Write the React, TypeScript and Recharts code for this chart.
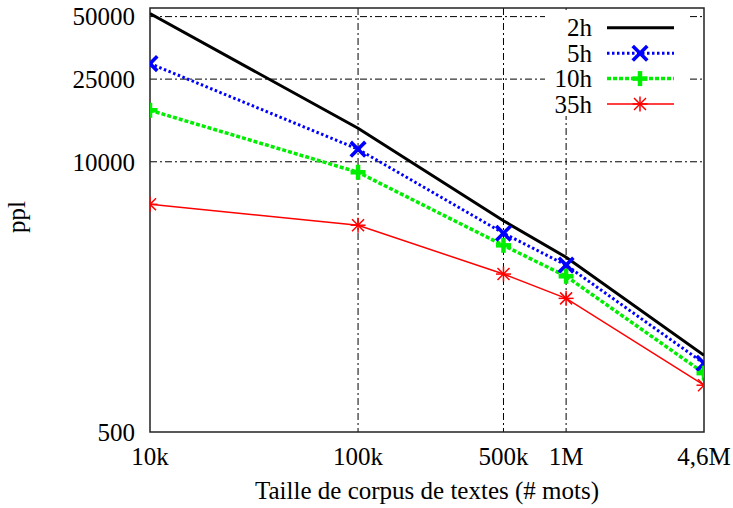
import React from "react";
import {
  LineChart, Line, XAxis, YAxis, CartesianGrid, Legend, ReferenceArea,
} from "recharts";

// corpus size (# words) and perplexity per training duration
const SIZES = [10000, 100000, 500000, 1000000, 4600000];
const SIZE_LABELS = ["10k", "100k", "500k", "1M", "4,6M"];
const PPL_2H = [51700, 14500, 5200, 3470, 1170];
const PPL_5H = [29700, 11500, 4530, 3180, 1070];
const PPL_10H = [17700, 8900, 3960, 2810, 960];
const PPL_35H = [6240, 4950, 2880, 2200, 840];
const Y_TICKS = [500, 10000, 25000, 50000];

const DATA = SIZES.map((s, i) => ({
  size: s,
  h2: PPL_2H[i],
  h5: PPL_5H[i],
  h10: PPL_10H[i],
  h35: PPL_35H[i],
}));

const FONT = "'Liberation Serif', 'DejaVu Serif', serif";

type Mark = "none" | "x" | "plus" | "star";

const SERIES: { key: string; name: string; color: string; width: number; dash?: string; mark: Mark }[] = [
  { key: "h2", name: "2h", color: "#000000", width: 3, mark: "none" },
  { key: "h5", name: "5h", color: "#0000ff", width: 3, dash: "2.5 2.5", mark: "x" },
  { key: "h10", name: "10h", color: "#00ee00", width: 3.5, dash: "4 2", mark: "plus" },
  { key: "h35", name: "35h", color: "#ff0000", width: 1.5, mark: "star" },
];

function Marker({ cx, cy, mark, color }: { cx: number; cy: number; mark: Mark; color: string }) {
  if (mark === "x") {
    return (
      <g stroke={color} strokeWidth={3.6} strokeLinecap="square">
        <line x1={cx - 6} y1={cy - 6} x2={cx + 6} y2={cy + 6} />
        <line x1={cx - 6} y1={cy + 6} x2={cx + 6} y2={cy - 6} />
      </g>
    );
  }
  if (mark === "plus") {
    return (
      <g stroke={color} strokeWidth={4.5}>
        <line x1={cx - 7.5} y1={cy} x2={cx + 7.5} y2={cy} />
        <line x1={cx} y1={cy - 7.5} x2={cx} y2={cy + 7.5} />
      </g>
    );
  }
  if (mark === "star") {
    return (
      <g stroke={color} strokeWidth={1.5}>
        <line x1={cx - 7.5} y1={cy} x2={cx + 7.5} y2={cy} />
        <line x1={cx} y1={cy - 7.5} x2={cx} y2={cy + 7.5} />
        <line x1={cx - 6} y1={cy - 6} x2={cx + 6} y2={cy + 6} />
        <line x1={cx - 6} y1={cy + 6} x2={cx + 6} y2={cy - 6} />
      </g>
    );
  }
  return null;
}

// legend sits just under the top frame line, on a white box that hides the grid
const LegendBox = () => (
  <svg width={144} height={106} style={{ display: "block", background: "#fff" }}>
    {SERIES.map((s, i) => {
      const y = 17.8 + i * 25.4;
      return (
        <g key={s.key}>
          <text x={47} y={y + 8.5} textAnchor="end" fontSize={25} fontFamily={FONT} fill="#000">
            {s.name}
          </text>
          <line x1={62} x2={129} y1={y} y2={y} stroke={s.color} strokeWidth={s.width} strokeDasharray={s.dash} />
          <Marker cx={95} cy={y} mark={s.mark} color={s.color} />
        </g>
      );
    })}
  </svg>
);

const YTitle = () => (
  <text x={25} y={217} transform="rotate(-90 25 217)" textAnchor="middle" fontSize={25} fontFamily={FONT} fill="#000">
    ppl
  </text>
);

export default function App() {
  const tick = { fontSize: 25, fill: "#000", fontFamily: FONT };
  return (
    <div style={{ position: "absolute", left: 0, top: 0, width: 733, height: 508, background: "#fff" }}>
      <LineChart width={733} height={508} data={DATA} margin={{ top: 8, right: 29, left: 0, bottom: 0 }}>
        <CartesianGrid
          horizontalValues={[10000, 25000, 50000]}
          verticalValues={[100000, 500000, 1000000]}
          stroke="#000"
          strokeWidth={1}
          strokeDasharray="7 3 2 3"
        />
        <XAxis
          dataKey="size"
          type="number"
          scale="log"
          domain={[10000, 4600000]}
          ticks={SIZES}
          interval={0}
          tickFormatter={(v: number) => SIZE_LABELS[SIZES.indexOf(v)] ?? ""}
          height={76}
          tickSize={0}
          tickMargin={15}
          axisLine={false}
          tick={tick}
          allowDataOverflow
          label={{ value: "Taille de corpus de textes (# mots)", position: "insideBottom", offset: 9, fontSize: 25, fill: "#000", fontFamily: FONT }}
        />
        <YAxis
          type="number"
          scale="log"
          domain={[500, 55000]}
          ticks={Y_TICKS}
          interval={0}
          width={150}
          tickSize={0}
          tickMargin={15}
          axisLine={false}
          tick={tick}
          allowDataOverflow
          label={<YTitle />}
        />
        <Legend
          layout="horizontal"
          verticalAlign="middle"
          align="center"
          content={() => <LegendBox />}
          wrapperStyle={{ top: 9.5, left: 545, width: 144, height: 106 }}
        />
        {SERIES.map((s) => (
          <Line
            key={s.key}
            type="linear"
            dataKey={s.key}
            name={s.name}
            stroke={s.color}
            strokeWidth={s.width}
            strokeDasharray={s.dash}
            isAnimationActive={false}
            activeDot={false}
            dot={(p: any) => <Marker key={`${s.key}-${p.index}`} cx={p.cx} cy={p.cy} mark={s.mark} color={s.color} />}
          />
        ))}
        <ReferenceArea x1={10000} x2={4600000} y1={500} y2={55000} fill="none" stroke="#222" strokeWidth={1.5} />
      </LineChart>
    </div>
  );
}
